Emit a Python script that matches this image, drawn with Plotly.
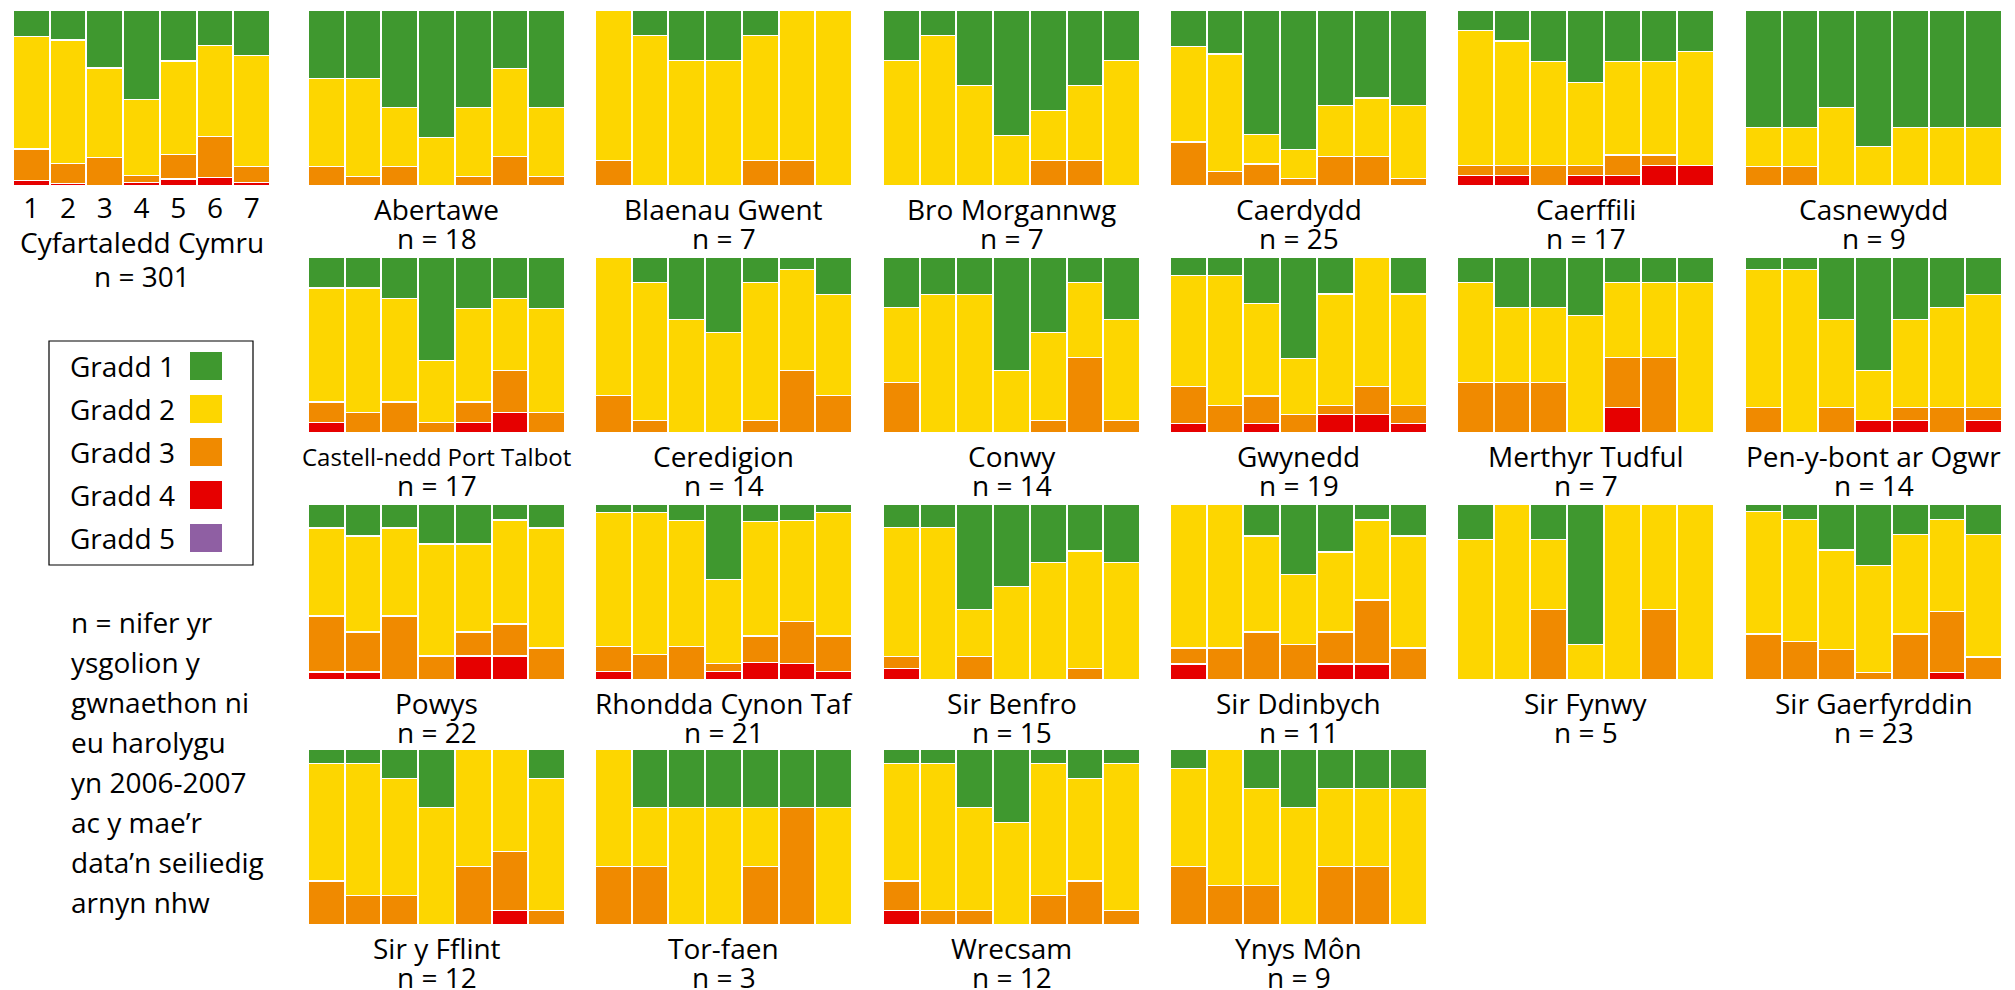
import plotly.graph_objects as go

# ---------------- data ----------------
grades = ["Gradd 1", "Gradd 2", "Gradd 3", "Gradd 4", "Gradd 5"]
colors = ["#3f982f", "#fdd600", "#f08a00", "#e60000", "#8f5fa3"]
bar_labels = ["1", "2", "3", "4", "5", "6", "7"]

# each list: 7 bars, each bar = [Gradd 1, Gradd 2, Gradd 3, Gradd 4] (Gradd 5 = none)
cymru = [[15, 64, 18, 3], [17, 70, 11.5, 1.5], [33, 51, 16, 0], [51, 43, 4, 2],
         [29, 53, 14, 4], [20, 52, 23, 5], [26, 63, 9, 2]]
abertawe = [[7, 9, 2, 0], [7, 10, 1, 0], [10, 6, 2, 0], [13, 5, 0, 0], [10, 7, 1, 0], [6, 9, 3, 0], [10, 7, 1, 0]]
blaenau_gwent = [[0, 6, 1, 0], [1, 6, 0, 0], [2, 5, 0, 0], [2, 5, 0, 0], [1, 5, 1, 0], [0, 6, 1, 0], [0, 7, 0, 0]]
bro_morgannwg = [[2, 5, 0, 0], [1, 6, 0, 0], [3, 4, 0, 0], [5, 2, 0, 0], [4, 2, 1, 0], [3, 3, 1, 0], [2, 5, 0, 0]]
caerdydd = [[5, 13, 6, 0], [6, 16, 2, 0], [17, 4, 3, 0], [19, 4, 1, 0], [13, 7, 4, 0], [12, 8, 4, 0], [13, 10, 1, 0]]
caerffili = [[2, 13, 1, 1], [3, 12, 1, 1], [5, 10, 2, 0], [7, 8, 1, 1], [5, 9, 2, 1], [5, 9, 1, 2], [4, 11, 0, 2]]
casnewydd = [[6, 2, 1, 0], [6, 2, 1, 0], [5, 4, 0, 0], [7, 2, 0, 0], [6, 3, 0, 0], [6, 3, 0, 0], [6, 3, 0, 0]]
castell_nedd = [[3, 11, 2, 1], [3, 12, 2, 0], [4, 10, 3, 0], [10, 6, 1, 0], [5, 9, 2, 1], [4, 7, 4, 2], [5, 10, 2, 0]]
ceredigion = [[0, 11, 3, 0], [2, 11, 1, 0], [5, 9, 0, 0], [6, 8, 0, 0], [2, 11, 1, 0], [1, 8, 5, 0], [3, 8, 3, 0]]
conwy = [[4, 6, 4, 0], [3, 11, 0, 0], [3, 11, 0, 0], [9, 5, 0, 0], [6, 7, 1, 0], [2, 6, 6, 0], [5, 8, 1, 0]]
gwynedd = [[2, 12, 4, 1], [2, 14, 3, 0], [5, 10, 3, 1], [11, 6, 2, 0], [4, 12, 1, 2], [0, 14, 3, 2], [4, 12, 2, 1]]
merthyr = [[1, 4, 2, 0], [2, 3, 2, 0], [2, 3, 2, 0], [2, 4, 0, 0], [1, 3, 2, 1], [1, 3, 3, 0], [1, 6, 0, 0]]
pen_y_bont = [[1, 11, 2, 0], [1, 13, 0, 0], [5, 7, 2, 0], [9, 4, 0, 1], [5, 7, 1, 1], [4, 8, 2, 0], [3, 9, 1, 1]]
powys = [[3, 11, 7, 1], [4, 12, 5, 1], [3, 11, 8, 0], [5, 14, 3, 0], [5, 11, 3, 3], [2, 13, 4, 3], [3, 15, 4, 0]]
rhondda = [[1, 16, 3, 1], [1, 17, 3, 0], [2, 15, 4, 0], [9, 10, 1, 1], [2, 13, 3, 2], [2, 12, 5, 2], [1, 14, 4, 1]]
sir_benfro = [[2, 11, 1, 1], [2, 13, 0, 0], [9, 4, 2, 0], [7, 8, 0, 0], [5, 10, 0, 0], [4, 10, 1, 0], [5, 10, 0, 0]]
sir_ddinbych = [[0, 9, 1, 1], [0, 9, 2, 0], [2, 6, 3, 0], [4, 4, 2, 0], [3, 5, 2, 1], [1, 5, 4, 1], [2, 7, 2, 0]]
sir_fynwy = [[1, 4, 0, 0], [0, 5, 0, 0], [1, 2, 2, 0], [4, 1, 0, 0], [0, 5, 0, 0], [0, 3, 2, 0], [0, 5, 0, 0]]
sir_gaerfyrddin = [[1, 16, 6, 0], [2, 16, 5, 0], [6, 13, 4, 0], [8, 14, 1, 0], [4, 13, 6, 0], [2, 12, 8, 1], [4, 16, 3, 0]]
sir_y_fflint = [[1, 8, 3, 0], [1, 9, 2, 0], [2, 8, 2, 0], [4, 8, 0, 0], [0, 8, 4, 0], [0, 7, 4, 1], [2, 9, 1, 0]]
tor_faen = [[0, 2, 1, 0], [1, 1, 1, 0], [1, 2, 0, 0], [1, 2, 0, 0], [1, 1, 1, 0], [1, 0, 2, 0], [1, 2, 0, 0]]
wrecsam = [[1, 8, 2, 1], [1, 10, 1, 0], [4, 7, 1, 0], [5, 7, 0, 0], [1, 9, 2, 0], [2, 7, 3, 0], [1, 10, 1, 0]]
ynys_mon = [[1, 5, 3, 0], [0, 7, 2, 0], [2, 5, 2, 0], [3, 6, 0, 0], [2, 4, 3, 0], [2, 4, 3, 0], [2, 7, 0, 0]]

region_names = ["Abertawe", "Blaenau Gwent", "Bro Morgannwg", "Caerdydd", "Caerffili", "Casnewydd",
                "Castell-nedd Port Talbot", "Ceredigion", "Conwy", "Gwynedd", "Merthyr Tudful", "Pen-y-bont ar Ogwr",
                "Powys", "Rhondda Cynon Taf", "Sir Benfro", "Sir Ddinbych", "Sir Fynwy", "Sir Gaerfyrddin",
                "Sir y Fflint", "Tor-faen", "Wrecsam", "Ynys Môn"]
region_n = [18, 7, 7, 25, 17, 9, 17, 14, 14, 19, 7, 14, 22, 21, 15, 11, 5, 23, 12, 3, 12, 9]
region_data = [abertawe, blaenau_gwent, bro_morgannwg, caerdydd, caerffili, casnewydd,
               castell_nedd, ceredigion, conwy, gwynedd, merthyr, pen_y_bont,
               powys, rhondda, sir_benfro, sir_ddinbych, sir_fynwy, sir_gaerfyrddin,
               sir_y_fflint, tor_faen, wrecsam, ynys_mon]
wales_name = "Cyfartaledd Cymru"
wales_n = 301
note_lines = ["n = nifer yr", "ysgolion y", "gwnaethon ni", "eu harolygu", "yn 2006-2007",
              "ac y mae’r", "data’n seiliedig", "arnyn nhw"]

# ---------------- layout helpers ----------------
# page body has an 8px margin, so the figure starts 8px in from the window corner;
# it is sized to reach the window's right and bottom edges
OFF = 8
W, H = 2015 - OFF, 990 - OFF
FONT = "'Open Sans', 'Noto Sans', sans-serif"
FS = 28
PW, PH = 257, 176
col_x = [13, 308, 595, 883, 1170, 1457, 1745]
row_y = [10, 257, 504, 749]


def px_x(x):
    return (x - OFF) / W


def px_y(y):
    return 1 - (y - OFF) / H


fig = go.Figure()
annotations = []
shapes = []
layout_axes = {}

panels = [(wales_name, wales_n, cymru, 0, 0)]
for i, (nm, n, d) in enumerate(zip(region_names, region_n, region_data)):
    panels.append((nm, n, d, i // 6, i % 6 + 1))

for k, (nm, n, d, r, c) in enumerate(panels):
    idx = k + 1
    xa = "x" if idx == 1 else f"x{idx}"
    ya = "y" if idx == 1 else f"y{idx}"
    left, top = col_x[c], row_y[r]
    totals = [sum(b) for b in d]
    # worst grade at the bottom, Gradd 1 on top
    for g in [3, 2, 1, 0]:
        fig.add_trace(go.Bar(
            x=list(range(7)),
            y=[b[g] / t * 100 for b, t in zip(d, totals)],
            marker=dict(color=colors[g], line=dict(color="white", width=1.2)),
            xaxis=xa, yaxis=ya, showlegend=False, name=grades[g],
        ))
    is_wales = (k == 0)
    layout_axes["xaxis" if idx == 1 else f"xaxis{idx}"] = dict(
        domain=[px_x(left), px_x(left + PW)], anchor=ya, range=[-0.5, 6.5],
        showgrid=False, zeroline=False, showline=False, ticks="",
        showticklabels=is_wales, tickvals=list(range(7)), ticktext=bar_labels,
        ticklabelstandoff=3,
        tickfont=dict(size=FS, color="black", family=FONT), fixedrange=True,
    )
    layout_axes["yaxis" if idx == 1 else f"yaxis{idx}"] = dict(
        domain=[px_y(top + PH), px_y(top)], anchor=xa, range=[0, 100],
        showgrid=False, zeroline=False, showline=False, showticklabels=False, fixedrange=True,
    )
    cx = px_x(left + PW / 2)
    if is_wales:
        name_y, n_y = top + PH + 56, top + PH + 90
    else:
        name_y, n_y = top + PH + 23, top + PH + 52
    fsize = 24 if nm == "Castell-nedd Port Talbot" else FS
    annotations.append(dict(x=cx, y=px_y(name_y), xref="paper", yref="paper", text=nm,
                            showarrow=False, xanchor="center", yanchor="middle",
                            font=dict(size=fsize, color="black", family=FONT)))
    annotations.append(dict(x=cx, y=px_y(n_y), xref="paper", yref="paper", text=f"n = {n}",
                            showarrow=False, xanchor="center", yanchor="middle",
                            font=dict(size=FS, color="black", family=FONT)))

# legend (text left, swatch right, in a box)
shapes.append(dict(type="rect", xref="paper", yref="paper",
                   x0=px_x(49), x1=px_x(253), y0=px_y(565), y1=px_y(341),
                   line=dict(color="black", width=1.2), fillcolor="rgba(0,0,0,0)"))
for g, (lab, col) in enumerate(zip(grades, colors)):
    yc = 366 + g * 43
    annotations.append(dict(x=px_x(68), y=px_y(yc), xref="paper", yref="paper", text=lab,
                            showarrow=False, xanchor="left", yanchor="middle",
                            font=dict(size=FS, color="black", family=FONT)))
    shapes.append(dict(type="rect", xref="paper", yref="paper",
                       x0=px_x(190), x1=px_x(222), y0=px_y(yc + 14), y1=px_y(yc - 14),
                       line=dict(width=0), fillcolor=col))

for i, line in enumerate(note_lines):
    annotations.append(dict(x=px_x(69), y=px_y(622 + i * 40), xref="paper", yref="paper", text=line,
                            showarrow=False, xanchor="left", yanchor="middle",
                            font=dict(size=FS, color="black", family=FONT)))

fig.update_layout(
    width=W, height=H, margin=dict(l=0, r=0, t=0, b=0),
    paper_bgcolor="white", plot_bgcolor="white",
    barmode="stack", bargap=0.02,
    annotations=annotations, shapes=shapes,
    font=dict(family=FONT, color="black"),
    **layout_axes,
)

fig.write_html("out.html")
